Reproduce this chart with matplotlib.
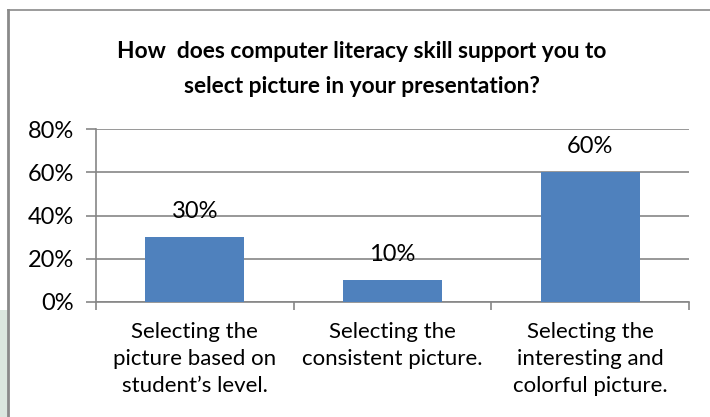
import matplotlib
matplotlib.use("Agg")
import matplotlib.pyplot as plt
from matplotlib.patches import Rectangle
from matplotlib.ticker import FuncFormatter, MultipleLocator

title = "How  does computer literacy skill support you to\nselect picture in your presentation?"
categories = ["Selecting the\npicture based on\nstudent\u2019s level.",
              "Selecting the\nconsistent picture.",
              "Selecting the\ninteresting and\ncolorful picture."]
values = [0.30, 0.10, 0.60]
labels = ["30%", "10%", "60%"]

plt.rcParams['font.family'] = ['Lato', 'DejaVu Sans']

fig = plt.figure(figsize=(7.1, 4.17), dpi=100)
fig.patch.set_facecolor('white')

# background artefacts: light green strip and chart border
fig.patches.append(Rectangle((0, 0), 8/710, 1 - 310/417, transform=fig.transFigure,
                             facecolor='#dbe7df', edgecolor='none', zorder=0))
fig.add_artist(plt.Line2D([8/710, 8/710], [0, 1 - 10/417], transform=fig.transFigure,
                          color='#8a8a8a', lw=2))
fig.add_artist(plt.Line2D([8/710, 1], [1 - 10/417, 1 - 10/417], transform=fig.transFigure,
                          color='#8a8a8a', lw=1.2))

ax = fig.add_axes([96/710, 1 - 302/417, (689 - 96)/710, (302 - 129)/417])
x = list(range(len(categories)))
ax.bar(x, values, width=0.5, color='#4f81bd', zorder=3)
ax.set_xlim(-0.5, 2.5)
ax.set_ylim(0, 0.8)
ax.yaxis.set_major_locator(MultipleLocator(0.2))
ax.yaxis.set_major_formatter(FuncFormatter(lambda v, p: f"{v*100:.0f}%"))
ax.grid(axis='y', color='#868686', lw=1.2, zorder=0)
for s in ['top', 'right']:
    ax.spines[s].set_visible(False)
for s in ['left', 'bottom']:
    ax.spines[s].set_color('#868686')
    ax.spines[s].set_linewidth(1.2)
ax.tick_params(axis='y', length=7, width=1.2, color='#868686', labelsize=17, pad=9)
ax.set_xticks([-0.5, 0.5, 1.5, 2.5], minor=False)
ax.set_xticklabels([])
ax.tick_params(axis='x', which='major', length=6, width=1.2, color='#868686')
ax.set_xticks(x, minor=True)
ax.set_xticklabels(categories, minor=True, fontsize=16, linespacing=1.42)
ax.tick_params(axis='x', which='minor', length=0, pad=14.5)

for xi, v, lab in zip(x, values, labels):
    ax.annotate(lab, (xi, v), xytext=(0, 14), textcoords='offset points',
                ha='center', va='baseline', fontsize=17)

fig.text(362/710, 1 - 69/417, title, ha='center', va='center', fontsize=16.4,
         fontweight='bold', linespacing=1.85)

fig.savefig('out.png', dpi=100)
